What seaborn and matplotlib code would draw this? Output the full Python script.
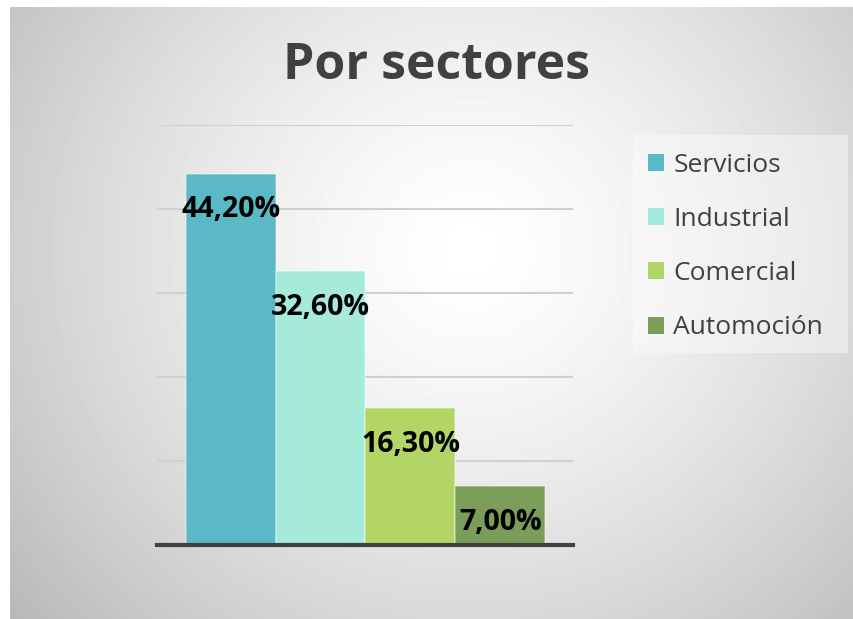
import numpy as np
import pandas as pd
import matplotlib
matplotlib.use("Agg")
import matplotlib.pyplot as plt
from matplotlib.patches import Patch, Rectangle
import seaborn as sns

# ---- data ----
sectores = ["Servicios", "Industrial", "Comercial", "Automoción"]
valores = [44.20, 32.60, 16.30, 7.00]
colores = ["#5BB8C6", "#A6EBD9", "#B2D566", "#7A9E5A"]
titulo = "Por sectores"
yticks = [0, 10, 20, 30, 40, 50]

sns.set_theme(style="white")
plt.rcParams["font.family"] = ["Open Sans", "DejaVu Sans"]

W, H = 854, 619
fig = plt.figure(figsize=(W / 100, H / 100), dpi=100)
fig.patch.set_facecolor("white")

# background panel with radial gradient
bg = fig.add_axes([10 / W, 0, 1 - 10 / W, 1 - 7 / H])
bg.set_axis_off()
yy, xx = np.mgrid[7:H, 10:W]
d = np.sqrt((xx - 470.0) ** 2 + ((yy - 250.0) * 1.05) ** 2)
v = 255 - 66 * np.clip(d / 570.0, 0, 1.2) ** 1.4
v = np.clip(v, 185, 255) / 255.0
bg.imshow(v, cmap="gray", vmin=0, vmax=1, aspect="auto", interpolation="bilinear")
bg.set_zorder(-10)

# main axes
left, right = 157 / W, 573 / W
bottom, top = (H - 545) / H, (H - 125) / H
ax = fig.add_axes([left, bottom, right - left, top - bottom])
ax.patch.set_alpha(0)

df = pd.DataFrame({"Sector": sectores, "Valor": valores})
sns.barplot(data=df, x="Sector", y="Valor", hue="Sector", palette=colores,
            width=1.0, legend=False, ax=ax, saturation=1, zorder=2)
for p in ax.patches:
    p.set_edgecolor((1, 1, 1, 0.35))
    p.set_linewidth(1.2)

ax.set_xlim(-0.5 - 0.32, 3.5 + 0.31)
ax.set_ylim(0, 50)
ax.set_yticks(yticks)
ax.yaxis.grid(True, color="#d0d0d0", linewidth=1.5, zorder=1)
ax.set_axisbelow(True)
ax.set_xticks([])
ax.tick_params(left=False, labelleft=False, bottom=False, labelbottom=False)
ax.set_xlabel("")
ax.set_ylabel("")
for s in ["top", "left", "right"]:
    ax.spines[s].set_visible(False)
ax.spines["bottom"].set_color("#404040")
ax.spines["bottom"].set_linewidth(3)
ax.spines["bottom"].set_zorder(5)

# value labels
for i, val in enumerate(valores):
    lab = f"{val:.2f}".replace(".", ",") + "%"
    ax.annotate(lab, xy=(i, val), xytext=(0, -26), textcoords="offset points",
                ha="center", va="center", fontsize=20.5, fontweight="bold",
                color="black", zorder=6)

# title
fig.text(437 / W, 1 - 66 / H, titulo, ha="center", va="center",
         fontsize=36, fontweight="bold", color="#404040")

# legend backdrop
fig.patches.append(Rectangle((633 / W, 1 - 353 / H), (848 - 633) / W, (353 - 135) / H,
                             transform=fig.transFigure, facecolor="white",
                             alpha=0.4, edgecolor="none", zorder=0))
handles = [Patch(facecolor=c, edgecolor="none", label=s) for s, c in zip(sectores, colores)]
leg = fig.legend(handles=handles, loc="upper left",
                 bbox_to_anchor=(637 / W, 1 - 142 / H), frameon=False,
                 fontsize=19, handlelength=0.62, handleheight=0.62,
                 handletextpad=0.35, labelspacing=1.11, borderaxespad=0)
for t in leg.get_texts():
    t.set_color("#404040")

fig.savefig("out.png", dpi=100)
